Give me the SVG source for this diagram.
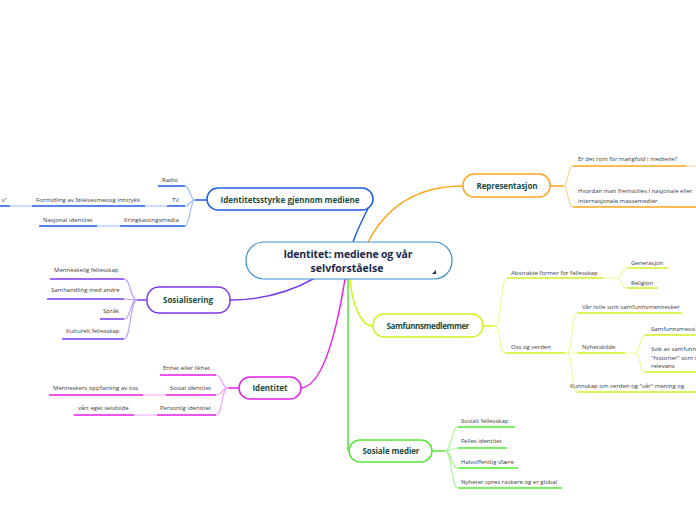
<svg xmlns="http://www.w3.org/2000/svg" width="696" height="520" viewBox="0 0 696 520">
<style>
.n{font-family:"Open Sans","Noto Sans",sans-serif;font-weight:bold;font-size:8px;fill:#1b4d3e;text-anchor:middle}
.c{font-family:"Open Sans","Noto Sans",sans-serif;font-weight:bold;font-size:10.5px;fill:#1c2a4f;text-anchor:middle}
.t{font-family:"Open Sans","Noto Sans",sans-serif;font-size:6px;fill:#3a3a3a}
.box{fill:#fff;stroke-width:1.5}
path{fill:none}
.bl{stroke:#1e5ce8;stroke-width:1.5}.bll{stroke:#9dbaf3;stroke-width:1.2}
.pu{stroke:#7b3cf0;stroke-width:1.5}.pul{stroke:#bfa4f6;stroke-width:1.2}
.ma{stroke:#e61ee6;stroke-width:1.5}.mal{stroke:#f4a3f4;stroke-width:1.2}
.gr{stroke:#55e634;stroke-width:1.5}.grl{stroke:#b0f29c;stroke-width:1.2}
.or{stroke:#ffa51f;stroke-width:1.5}.orl{stroke:#ffd593;stroke-width:1.2}
.li{stroke:#d4f020;stroke-width:1.5}.lil{stroke:#eef99e;stroke-width:1.2}
</style>
<rect width="696" height="520" fill="#fff"/>
<g id="connectors">
<!-- blue -->
<path class="bl" d="M353,242 C358,228 366,212 373,199"/>
<path class="bl" d="M207,200 L195,200"/>
<path class="bll" d="M195,200 C190,200 190,186 185,186 M195,200 C190,200 190,206 185,206 M195,200 C190,200 190,226 185,226"/>
<path class="bl" d="M158,186 H185 M167,206 H185 M120,226 H185 M32,206 H145 M0,206 H10 M39,226 H97"/>
<path class="bll" d="M145,206 H167 M10,206 H32 M97,226 H120"/>
<!-- purple -->
<path class="pu" d="M315,278 C285,295 258,300 230,300"/>
<path class="pu" d="M147,300 L137,300"/>
<path class="pul" d="M137,300 C130,300 131,279 124,279 M137,300 C130,300 131,299 124,299 M137,300 C130,300 131,319 124,319 M137,300 C130,300 131,339 124,339"/>
<path class="pu" d="M50,279 H124 M47,299 H124 M100,319 H124 M62,339 H124"/>
<!-- magenta -->
<path class="ma" d="M345,279 C336,335 322,386 301,388"/>
<path class="ma" d="M239,388 L228,388"/>
<path class="mal" d="M228,388 C221,388 223,375 216,375 M228,388 C221,388 223,395 216,395 M228,388 C221,388 223,415 216,415"/>
<path class="ma" d="M160,375 H216 M166,395 H216 M157,415 H216 M49,395 H143 M74,415 H134"/>
<path class="mal" d="M143,395 H166 M134,415 H157"/>
<!-- green -->
<path class="gr" d="M348,279 L348,451"/>
<path class="gr" d="M432,451 L445,451"/>
<path class="grl" d="M445,451 C452,451 451,427 458,427 M445,451 C452,451 451,448 458,448 M445,451 C452,451 451,468 458,468 M445,451 C452,451 451,488 458,488"/>
<path class="gr" d="M458,427 H515 M458,448 H507 M458,468 H518 M458,488 H562"/>
<!-- orange -->
<path class="or" d="M368,242 C390,200 425,186 463,186"/>
<path class="or" d="M550,186 L563,186"/>
<path class="orl" d="M563,186 C569,186 567,166 573,166 M563,186 C569,186 567,207 573,207 M686,166 H696"/>
<path class="or" d="M573,166 H686 M573,207 H696"/>
<!-- lime -->
<path class="li" d="M350,279 C352,302 360,326 373,326"/>
<path class="li" d="M483,326 L495,326"/>
<path class="lil" d="M495,326 C502,326 500,278 507,278 M495,326 C502,326 498,353 505,353"/>
<path class="li" d="M507,278 H603 M505,353 H565"/>
<path class="lil" d="M603,278 H617 M617,278 C623,278 621,268 627,268 M617,278 C623,278 621,288 627,288"/>
<path class="li" d="M627,268 H668 M627,288 H658"/>
<path class="lil" d="M565,353 H567 M567,353 C573,353 571,313 577,313 M567,353 H577 M567,353 C573,353 571,392 577,392"/>
<path class="li" d="M577,313 H682 M577,353 H625 M577,392 H696"/>
<path class="lil" d="M625,353 H635 M635,353 C641,353 639,335 645,335 M635,353 C641,353 639,372 645,372"/>
<path class="li" d="M645,335 H696 M645,372 H696"/>
</g>
<g id="central">
<rect x="246" y="242" width="206" height="37" rx="18" fill="#fff" stroke="#3d8fd1" stroke-width="1.2"/>
<text class="c" x="348" y="258" textLength="129">Identitet: mediene og vår</text>
<text class="c" x="347" y="272">selvforståelse</text>
<polygon points="432,274 436,274 436,270" fill="#1c2a4f"/>
</g>
<g id="identitetsstyrke">
<rect class="box" x="207" y="188" width="166" height="22" rx="11" stroke="#1e5ce8"/>
<text class="n" x="290" y="202.5" textLength="139">Identitetsstyrke gjennom mediene</text>
</g>
<g id="radio"><text class="t" x="162" y="182">Radio</text></g>
<g id="tv"><text class="t" x="172" y="202">TV</text></g>
<g id="formidling"><text class="t" x="36" y="202">Formidling av følelsesmessig inntrykk</text></g>
<g id="cut-left"><text class="t" x="7" y="202" text-anchor="end">s"</text></g>
<g id="kringkasting"><text class="t" x="124" y="222">Kringkastingsmedia</text></g>
<g id="nasjonal"><text class="t" x="43" y="222">Nasjonal identitet</text></g>
<g id="sosialisering">
<rect class="box" x="147" y="287" width="83" height="26" rx="12" stroke="#7b3cf0"/>
<text class="n" x="188" y="303" textLength="50">Sosialisering</text>
</g>
<g id="menneskelig"><text class="t" x="54" y="272">Menneskelig fellesskap</text></g>
<g id="samhandling"><text class="t" x="51" y="292">Samhandling med andre</text></g>
<g id="sprak"><text class="t" x="103" y="313">Språk</text></g>
<g id="kulturelt"><text class="t" x="66" y="333">Kulturelt fellesskap</text></g>
<g id="identitet">
<rect class="box" x="239" y="377" width="62" height="22" rx="11" stroke="#e61ee6"/>
<text class="n" x="270" y="391" textLength="35">Identitet</text>
</g>
<g id="enhet"><text class="t" x="163" y="370">Enhet eller likhet</text></g>
<g id="sosial-id"><text class="t" x="170" y="390">Sosial identitet</text></g>
<g id="menneskers"><text class="t" x="53" y="390">Menneskers oppfatning av oss</text></g>
<g id="personlig"><text class="t" x="160" y="410">Personlig identitet</text></g>
<g id="selvbilde"><text class="t" x="78" y="410">vårt eget selvbilde</text></g>
<g id="sosiale-medier">
<rect class="box" x="349" y="440" width="83" height="22" rx="11" stroke="#55e634"/>
<text class="n" x="391" y="454" textLength="57">Sosiale medier</text>
</g>
<g id="sosialt"><text class="t" x="461" y="423">Sosialt fellesskap</text></g>
<g id="felles"><text class="t" x="461" y="443">Felles identitet</text></g>
<g id="halv"><text class="t" x="461" y="464">Halvoffentlig sfære</text></g>
<g id="nyheter"><text class="t" x="461" y="484">Nyheter spres raskere og er global</text></g>
<g id="representasjon">
<rect class="box" x="463" y="174" width="87" height="23" rx="11" stroke="#ffa51f"/>
<text class="n" x="507" y="188.5" textLength="61">Representasjon</text>
</g>
<g id="mangfold"><text class="t" x="578" y="161">Er det rom for mangfold i mediene?</text></g>
<g id="fremstilles"><text class="t" x="578" y="193">Hvordan man fremstilles i nasjonale eller</text><text class="t" x="578" y="203">internasjonale massemedier</text></g>
<g id="samfunnsmedlemmer">
<rect class="box" x="373" y="314" width="110" height="23" rx="11" stroke="#d4f020"/>
<text class="n" x="428" y="328.5" textLength="83">Samfunnsmedlemmer</text>
</g>
<g id="abstrakte"><text class="t" x="511" y="275">Abstrakte former for fellesskap</text></g>
<g id="generasjon"><text class="t" x="631" y="265">Generasjon</text></g>
<g id="religion"><text class="t" x="631" y="285">Religion</text></g>
<g id="oss"><text class="t" x="511" y="349">Oss og verden</text></g>
<g id="var-rolle"><text class="t" x="582" y="309">Vår rolle som samfunnsmennesker</text></g>
<g id="nyhetsbilde"><text class="t" x="582" y="349">Nyhetsbilde</text></g>
<g id="samfunnsmessi"><text class="t" x="651" y="331">Samfunnsmessi</text></g>
<g id="svik"><text class="t" x="651" y="351">Svik av samfunn</text><text class="t" x="651" y="359.5">"historier" som s</text><text class="t" x="651" y="368">relevans</text></g>
<g id="kunnskap"><text class="t" x="570" y="388">Kunnskap om verden og "vår" mening og</text></g>
</svg>
